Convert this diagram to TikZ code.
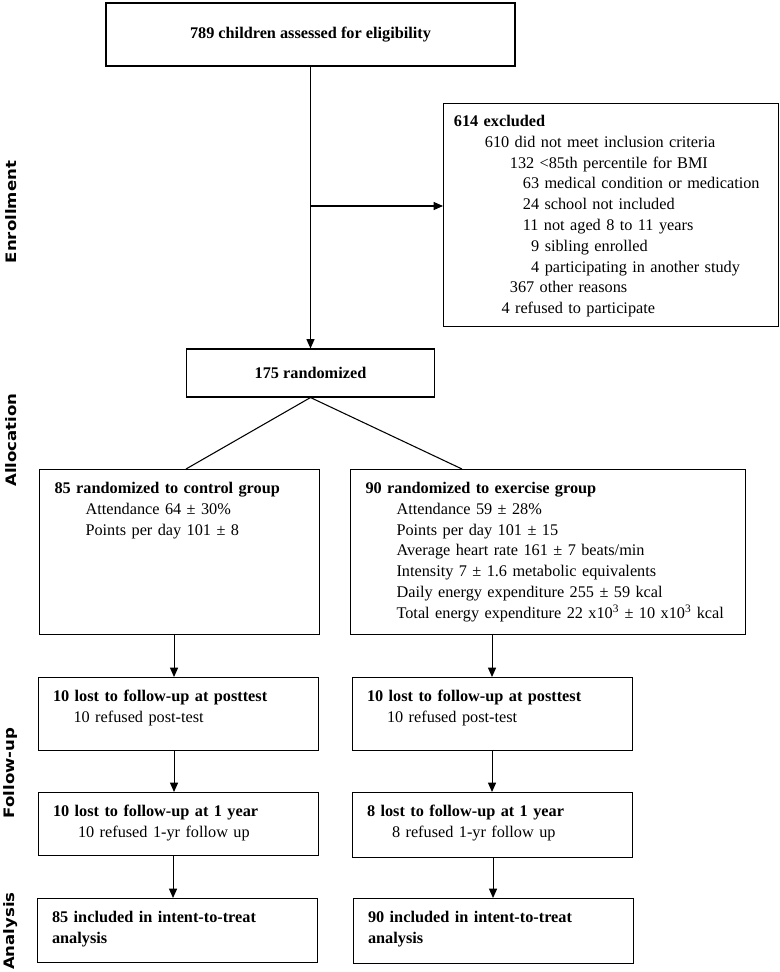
\documentclass[tikz,border=0pt]{standalone}
\usepackage{fontspec}
\setmainfont{Liberation Serif}
\newfontfamily\phasefont{DejaVu Sans}
\usepackage{graphicx}
\usepackage{tikz}
\usetikzlibrary{positioning, arrows.meta}

\tikzset{
  every node/.style={font=\fontsize{12.2}{15.6}\selectfont},
  flowbox/.style={draw, anchor=north west, align=left, inner xsep=11.25pt,
    inner ysep=0pt, text height=18pt},
  phase/.style={rotate=90, font=\phasefont\bfseries\fontsize{10.8}{12}\selectfont},
  arrow/.style={-{Triangle[length=7pt,width=6pt]}},
}

\begin{document}
\begin{tikzpicture}[x=0.75pt, y=-0.75pt, line width=0.8pt]
    \useasboundingbox (0,0) rectangle (780,972);

    % phases
    \node[phase] at (11,212) (enroll) {\scalebox{1.15}[1]{Enrollment}};
    \node[phase] at (11,440) (alloc) {\scalebox{1.15}[1]{Allocation}};
    \node[phase] at (11,773) (follow) {\scalebox{1.15}[1]{Follow-up}};
    \node[phase] at (11,931) (anal) {\scalebox{1.15}[1]{Analysis}};

    % enrollment
    \node[draw, minimum width=306.75pt, minimum height=47.25pt] at (310.5,34.5) (elig)
      {\textbf{789 children assessed for eligibility}};
    \node[flowbox, inner xsep=7.75pt, text height=17.25pt, text depth=150pt,
      text width=235.75pt] at (443,103) (excl)
      {\textbf{614 excluded}\\
       \hspace*{23.25pt}610 did not meet inclusion criteria\\
       \hspace*{42pt}132 <85th percentile for BMI\\
       \hspace*{51.75pt}63 medical condition or medication\\
       \hspace*{51.75pt}24 school not included\\
       \hspace*{51.75pt}11 not aged 8 to 11 years\\
       \hspace*{58pt}9 sibling enrolled\\
       \hspace*{58pt}4 participating in another study\\
       \hspace*{42pt}367 other reasons\\
       \hspace*{35.75pt}4 refused to participate};
    \node[draw, minimum width=186pt, minimum height=36pt] at (310.5,373) (rand)
      {\textbf{175 randomized}};

    % allocation
    \node[flowbox, text depth=105.75pt, text width=187.5pt] at (39,469) (ctrl)
      {\textbf{85 randomized to control group}\\
       \hspace*{23.25pt}Attendance 64 ± 30\%\\
       \hspace*{23.25pt}Points per day 101 ± 8};
    \node[flowbox, text depth=105.75pt, text width=273.75pt] at (350,469) (exer)
      {\textbf{90 randomized to exercise group}\\
       \hspace*{23.25pt}Attendance 59 ± 28\%\\
       \hspace*{23.25pt}Points per day 101 ± 15\\
       \hspace*{23.25pt}Average heart rate 161 ± 7 beats/min\\
       \hspace*{23.25pt}Intensity 7 ± 1.6 metabolic equivalents\\
       \hspace*{23.25pt}Daily energy expenditure 255 ± 59 kcal\\
       \hspace*{23.25pt}\mbox{Total energy expenditure 22 x10\textsuperscript{3} ± 10 x10\textsuperscript{3} kcal}};

    % follow-up
    \node[flowbox, text depth=36.75pt, text width=187.5pt] at (37.5,677) (post1)
      {\textbf{10 lost to follow-up at posttest}\\
       \hspace*{15.4pt}10 refused post-test};
    \node[flowbox, text depth=36.75pt, text width=187.5pt] at (351.5,677) (post2)
      {\textbf{10 lost to follow-up at posttest}\\
       \hspace*{15pt}10 refused post-test};
    \node[flowbox, text depth=29.25pt, text width=187.5pt] at (37.5,792) (year1)
      {\textbf{10 lost to follow-up at 1 year}\\
       \hspace*{18.75pt}10 refused 1-yr follow up};
    \node[flowbox, text depth=30.75pt, text width=187.5pt] at (351.5,792) (year2)
      {\textbf{8 lost to follow-up at 1 year}\\
       \hspace*{18.75pt}8 refused 1-yr follow up};

    % analysis
    \node[flowbox, text depth=30pt, text width=187.5pt] at (36.5,898) (itt1)
      {\textbf{85 included in intent-to-treat}\\
       \textbf{analysis}};
    \node[flowbox, text depth=30.75pt, text width=187.5pt] at (352.5,898) (itt2)
      {\textbf{90 included in intent-to-treat}\\
       \textbf{analysis}};

    \coordinate (branch) at (310.5,206);

    \draw[arrow] (elig) -- (rand);
    \draw[arrow] (branch) -- (branch -| excl.west);
    \draw (rand.south) -- ([xshift=110.25pt]ctrl.north west);
    \draw (rand.south) -- ([xshift=84pt]exer.north west);
    \draw[arrow] ([xshift=-3pt]post1.north |- ctrl.south) -- ([xshift=-3pt]post1.north);
    \draw[arrow] (post2.north |- exer.south) -- (post2.north);
    \draw[arrow] ([xshift=-3pt]year1.north |- post1.south) -- ([xshift=-3pt]year1.north);
    \draw[arrow] (year2.north |- post2.south) -- (year2.north);
    \draw[arrow] ([xshift=-3pt]itt1.north |- year1.south) -- ([xshift=-3pt]itt1.north);
    \draw[arrow] (itt2.north |- year2.south) -- (itt2.north);
  \end{tikzpicture}
\end{document}
